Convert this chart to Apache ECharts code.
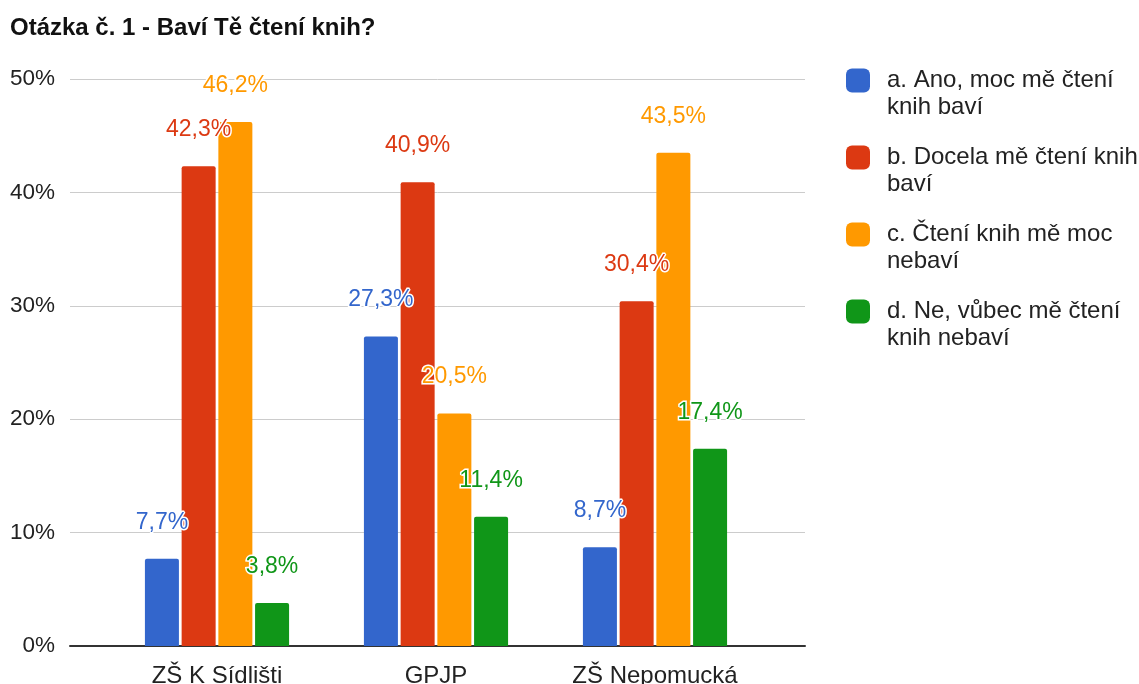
<!DOCTYPE html>
<html>
<head>
<meta charset="utf-8">
<script src="https://cdn.jsdelivr.net/npm/echarts@6/dist/echarts.min.js"></script>
<style>
  html, body { margin: 0; padding: 0; background: #fff; }
  #chart { width: 1139px; height: 684px; }
</style>
</head>
<body>
<div id="chart"></div>
<script>
// data
var categories = ['ZŠ K Sídlišti', 'GPJP', 'ZŠ Nepomucká'];
var seriesNames = [
  'a. Ano, moc mě čtení knih baví',
  'b. Docela mě čtení knih baví',
  'c. Čtení knih mě moc nebaví',
  'd. Ne, vůbec mě čtení knih nebaví'
];
// legend text as it wraps in the original
var legendLines = {
  'a. Ano, moc mě čtení knih baví': ['a. Ano, moc mě čtení', 'knih baví'],
  'b. Docela mě čtení knih baví': ['b. Docela mě čtení knih', 'baví'],
  'c. Čtení knih mě moc nebaví': ['c. Čtení knih mě moc', 'nebaví'],
  'd. Ne, vůbec mě čtení knih nebaví': ['d. Ne, vůbec mě čtení', 'knih nebaví']
};
var valuesA = [7.7, 27.3, 8.7];
var valuesB = [42.3, 40.9, 30.4];
var valuesC = [46.2, 20.5, 43.5];
var valuesD = [3.8, 11.4, 17.4];
var yMin = 0, yMax = 50, yStep = 10;

var colors = ['#3366cc', '#dc3912', '#ff9900', '#109618'];
var font = 'Liberation Sans, Arial, sans-serif';

function pct(v) {
  return String(v).replace('.', ',') + '%';
}

function makeSeries(name, data, i) {
  return {
    name: name,
    type: 'bar',
    xAxisIndex: 1,
    yAxisIndex: 1,
    barWidth: 34,
    barGap: '8%',
    itemStyle: { color: colors[i], borderRadius: [2, 2, 0, 0] },
    label: {
      show: true,
      position: 'top',
      distance: 25,
      color: colors[i],
      fontFamily: font,
      fontSize: 23,
      textBorderColor: '#fff',
      textBorderWidth: 3,
      formatter: function (p) { return pct(p.value); }
    },
    data: data
  };
}

var chart = echarts.init(document.getElementById('chart'));
chart.setOption({
  backgroundColor: '#fff',
  animation: false,
  title: {
    text: 'Otázka č. 1 - Baví Tě čtení knih?',
    left: 5,
    top: 11,
    textStyle: { fontFamily: font, fontSize: 24, fontWeight: 'bold', color: '#111' }
  },
  legend: {
    orient: 'vertical',
    left: 841,
    top: 35,
    itemWidth: 24,
    itemHeight: 24,
    itemGap: -4,
    icon: 'roundRect',
    data: seriesNames,
    // blank first line keeps the icon level with the first text line
    formatter: function (n) {
      var l = legendLines[n];
      return '\n{s|}' + l[0] + '\n{s|}' + l[1];
    },
    textStyle: {
      fontFamily: font,
      fontSize: 24,
      lineHeight: 27,
      color: '#222',
      rich: {
        s: { width: 12, fontSize: 24, lineHeight: 27 }
      }
    }
  },
  grid: [
    { left: 70, right: 334, top: 79, bottom: 38, outerBoundsMode: 'none' },
    { left: 107.5, right: 374.5, top: 79, bottom: 38, outerBoundsMode: 'none' }
  ],
  xAxis: [
    {
      type: 'value', gridIndex: 0, min: 0, max: 1,
      axisLabel: { show: false }, axisTick: { show: false },
      splitLine: { show: false },
      axisLine: { show: true, onZero: false, lineStyle: { color: '#333', width: 2 } }
    },
    {
      type: 'category', gridIndex: 1, data: categories,
      axisLine: { show: false }, axisTick: { show: false },
      axisLabel: { fontFamily: font, fontSize: 24, color: '#222', margin: 18 }
    }
  ],
  yAxis: [
    {
      type: 'value', gridIndex: 0, min: yMin, max: yMax, interval: yStep,
      axisLine: { show: false }, axisTick: { show: false },
      splitLine: { lineStyle: { color: '#cccccc', width: 1 } },
      axisLabel: {
        fontFamily: font, fontSize: 22.5, color: '#222', margin: 15,
        formatter: '{value}%'
      }
    },
    {
      type: 'value', gridIndex: 1, min: yMin, max: yMax, interval: yStep,
      show: false
    }
  ],
  series: [
    makeSeries(seriesNames[0], valuesA, 0),
    makeSeries(seriesNames[1], valuesB, 1),
    makeSeries(seriesNames[2], valuesC, 2),
    makeSeries(seriesNames[3], valuesD, 3)
  ]
});
</script>
</body>
</html>
